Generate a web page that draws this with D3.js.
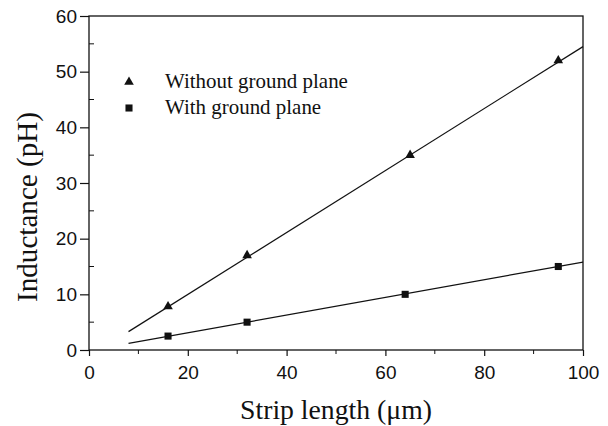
<!DOCTYPE html>
<meta charset="utf-8">
<style>
body { margin: 0; background: #fff; }
.tick text { font-family: 'Liberation Sans', Arial, sans-serif; font-size: 19px; fill: #111; }
.title { font-family: 'Liberation Serif', 'Times New Roman', serif; font-size: 26px; fill: #111; }
.legend { font-family: 'Liberation Serif', 'Times New Roman', serif; font-size: 20px; fill: #111; }
</style>
<body>
<div id="chart"></div>
<script src="https://d3js.org/d3.v7.min.js"></script>
<script>
// measured points
var lengthsTri = [16, 32, 65, 95]
var inductTri = [7.8, 17, 35, 52]
var lengthsSq = [16, 32, 64, 95]
var inductSq = [2.5, 5, 10, 15]
// fitted lines (end points)
var fitX = [8, 100]
var fitTri = [3.3, 54.5]
var fitSq = [1.2, 15.8]

var legendLabels = ['Without ground plane', 'With ground plane']

var width = 608, height = 426
var mLeft = 89, mRight = 583, mTop = 16, mBottom = 350

var svg = d3.select('#chart').append('svg')
  .attr('width', width)
  .attr('height', height)

var x = d3.scaleLinear().domain([0, 100]).range([mLeft, mRight])
var y = d3.scaleLinear().domain([0, 60]).range([mBottom, mTop])

// frame
svg.append('rect')
  .attr('x', mLeft).attr('y', mTop)
  .attr('width', mRight - mLeft).attr('height', mBottom - mTop)
  .attr('fill', 'none').attr('stroke', '#111').attr('stroke-width', 1.3)

// minor ticks
svg.append('g').selectAll('line')
  .data(d3.range(5, 60, 10))
  .enter().append('line')
  .attr('x1', mLeft).attr('x2', mLeft + 5)
  .attr('y1', function (d) { return y(d) }).attr('y2', function (d) { return y(d) })
  .attr('stroke', '#111')
svg.append('g').selectAll('line')
  .data(d3.range(10, 100, 20))
  .enter().append('line')
  .attr('y1', mBottom).attr('y2', mBottom + 4)
  .attr('x1', function (d) { return x(d) }).attr('x2', function (d) { return x(d) })
  .attr('stroke', '#111')

var xAxis = svg.append('g')
  .attr('transform', 'translate(0,' + mBottom + ')')
  .call(d3.axisBottom(x).tickValues([0, 20, 40, 60, 80, 100]).tickSize(6).tickPadding(10))
var yAxis = svg.append('g')
  .attr('transform', 'translate(' + mLeft + ',0)')
  .call(d3.axisLeft(y).tickValues([0, 10, 20, 30, 40, 50, 60]).tickSize(9).tickPadding(3))
xAxis.select('.domain').remove()
yAxis.select('.domain').remove()
svg.selectAll('.tick line').attr('stroke', '#111').attr('stroke-width', 1.2)
svg.selectAll('.tick text').attr('font-family', null).attr('font-size', null)
xAxis.selectAll('.tick text').attr('dy', '0.7em')

// fit lines
var line = d3.line()
  .x(function (d) { return x(d[0]) })
  .y(function (d) { return y(d[1]) })
svg.append('path').datum(d3.zip(fitX, fitTri))
  .attr('d', line).attr('fill', 'none').attr('stroke', '#111').attr('stroke-width', 1.2)
svg.append('path').datum(d3.zip(fitX, fitSq))
  .attr('d', line).attr('fill', 'none').attr('stroke', '#111').attr('stroke-width', 1.2)

var tri = d3.symbol().type(d3.symbolTriangle).size(40)
var sq = d3.symbol().type(d3.symbolSquare).size(50)

svg.append('g').selectAll('path')
  .data(d3.zip(lengthsTri, inductTri))
  .enter().append('path')
  .attr('d', tri)
  .attr('transform', function (d) { return 'translate(' + x(d[0]) + ',' + y(d[1]) + ')' })
  .attr('fill', '#111')
svg.append('g').selectAll('path')
  .data(d3.zip(lengthsSq, inductSq))
  .enter().append('path')
  .attr('d', sq)
  .attr('transform', function (d) { return 'translate(' + x(d[0]) + ',' + y(d[1]) + ')' })
  .attr('fill', '#111')

// fit a text to a given width by scaling its font size
function fitWidth(sel, w) {
  var n = sel.node()
  var fs = parseFloat(getComputedStyle(n).fontSize)
  var len = n.getComputedTextLength()
  if (len > 0) sel.style('font-size', (fs * w / len) + 'px')
}

// legend
var leg = svg.append('g')
leg.append('path').attr('d', tri).attr('transform', 'translate(129,82)').attr('fill', '#111')
leg.append('path').attr('d', sq).attr('transform', 'translate(129,108)').attr('fill', '#111')
var legText = leg.selectAll('text')
  .data(legendLabels)
  .enter().append('text')
  .attr('class', 'legend')
  .attr('x', 165)
  .attr('y', function (d, i) { return 88 + i * 26 })
  .text(function (d) { return d })
var l0 = d3.select(legText.nodes()[0])
fitWidth(l0, 183)
legText.style('font-size', l0.style('font-size'))

// axis titles
var xt = svg.append('text').attr('class', 'title')
  .attr('x', 336).attr('y', 419)
  .attr('text-anchor', 'middle')
  .text('Strip length (μm)')
fitWidth(xt, 192)
var yt = svg.append('text').attr('class', 'title')
  .attr('transform', 'translate(37,207) rotate(-90)')
  .attr('text-anchor', 'middle')
  .text('Inductance (pH)')
fitWidth(yt, 190)
</script>
</body>
